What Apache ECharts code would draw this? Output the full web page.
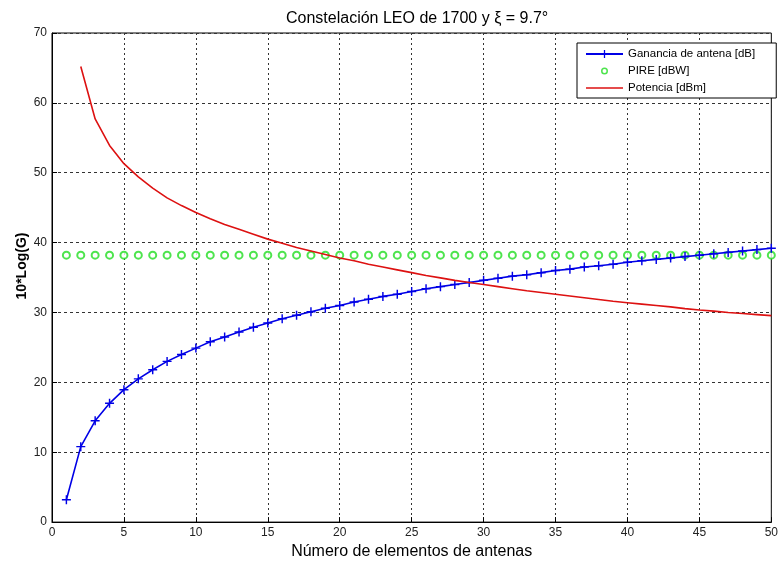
<!DOCTYPE html>
<html>
<head>
<meta charset="utf-8">
<script src="https://cdn.jsdelivr.net/npm/echarts@6/dist/echarts.min.js"></script>
<style>html,body{margin:0;padding:0;background:#fff;overflow:hidden;}#c{width:781px;height:565px;}</style>
</head>
<body>
<div id="c"></div>
<script>
var elementos = [1,2,3,4,5,6,7,8,9,10,11,12,13,14,15,16,17,18,19,20,21,22,23,24,25,26,27,28,29,30,31,32,33,34,35,36,37,38,39,40,41,42,43,44,45,46,47,48,49,50];
var ganancia = [3.2,10.8,14.5,17.0,18.95,20.5,21.8,23.0,24.0,24.9,25.8,26.5,27.2,27.9,28.5,29.1,29.6,30.1,30.6,31.0,31.5,31.9,32.3,32.6,33.0,33.4,33.7,34.0,34.3,34.6,34.9,35.2,35.4,35.7,36.0,36.2,36.5,36.7,36.9,37.2,37.4,37.6,37.8,38.0,38.2,38.4,38.6,38.8,39.0,39.2];
var pire = [38.2,38.2,38.2,38.2,38.2,38.2,38.2,38.2,38.2,38.2,38.2,38.2,38.2,38.2,38.2,38.2,38.2,38.2,38.2,38.2,38.2,38.2,38.2,38.2,38.2,38.2,38.2,38.2,38.2,38.2,38.2,38.2,38.2,38.2,38.2,38.2,38.2,38.2,38.2,38.2,38.2,38.2,38.2,38.2,38.2,38.2,38.2,38.2,38.2,38.2];
// Potencia starts at 2 elements
var potencia = [null,65.2,57.7,53.9,51.3,49.4,47.8,46.4,45.3,44.3,43.4,42.6,41.9,41.2,40.5,39.9,39.3,38.8,38.3,37.8,37.4,36.9,36.5,36.1,35.7,35.3,34.95,34.6,34.3,34.0,33.7,33.4,33.1,32.85,32.6,32.35,32.1,31.85,31.6,31.4,31.2,31.0,30.8,30.55,30.35,30.2,30.0,29.85,29.7,29.55];
var xTicks = [0,5,10,15,20,25,30,35,40,45,50];
var yTicks = [0,10,20,30,40,50,60,70];

function pairs(xs, ys){ var out=[]; for (var i=0;i<xs.length;i++){ if (ys[i]!==null) out.push([xs[i], ys[i]]); } return out; }

var font = 'Liberation Sans, Arial, sans-serif';
var chart = echarts.init(document.getElementById('c'), null, {renderer:'canvas', width: 781, height: 565});
var plus = 'path://M4.2,0 H5.8 V4.2 H10 V5.8 H5.8 V10 H4.2 V5.8 H0 V4.2 H4.2 Z';
var ring = 'path://M0,0 h0.02 v0.02 h-0.02 Z M13.98,13.98 h0.02 v0.02 h-0.02 Z M2.1,7 A4.9,4.9 0 1,0 11.9,7 A4.9,4.9 0 1,0 2.1,7 Z M4.2,7 A2.8,2.8 0 1,1 9.8,7 A2.8,2.8 0 1,1 4.2,7 Z';
var blue = '#0000e6', green = '#22dd22', red = '#dd1111';
chart.setOption({
  backgroundColor: '#ffffff',
  animation: false,
  title: {
    text: 'Constelación LEO de 1700 y ξ = 9.7°',
    left: 281, top: 6,
    textStyle: {fontFamily: font, fontSize: 16, fontWeight: 'normal', color: '#000'}
  },
  graphic: [{
    type: 'text', x: 22, y: 266, rotation: Math.PI/2,
    style: {text: '10*Log(G)', fontFamily: font, fontSize: 14, fontWeight: 'bold', fill: '#000', align: 'center', verticalAlign: 'middle'}
  }],
  legend: {
    orient: 'vertical',
    left: 577, top: 43,
    padding: [5, 21, 4, 8],
    itemGap: 5,
    itemWidth: 37, itemHeight: 10,
    backgroundColor: '#fff',
    borderColor: '#000', borderWidth: 1,
    textStyle: {fontFamily: font, fontSize: 11.5, color: '#000'},
    data: [
      {name: 'Ganancia de antena [dB]'},
      {name: 'PIRE [dBW]', icon: ring, itemStyle: {color: green, borderWidth: 0}},
      {name: 'Potencia [dBm]', icon: 'path://M0,0 H37 V1.6 H0 Z'}
    ]
  },
  grid: {left: 52, right: 3, top: 33, bottom: 37, show: true, borderColor: '#000', borderWidth: 1},
  xAxis: {
    type: 'value', min: xTicks[0], max: xTicks[xTicks.length-1], interval: 5,
    name: 'Número de elementos de antenas', nameLocation: 'middle', nameGap: 16,
    nameTextStyle: {fontFamily: font, fontSize: 16, color: '#000'},
    axisLine: {show: true, lineStyle: {color: '#000', width: 1}},
    axisTick: {show: true, inside: true, length: 5, lineStyle: {color: '#000'}},
    axisLabel: {fontFamily: font, fontSize: 12, color: '#222', margin: 5},
    splitLine: {show: true, lineStyle: {color: '#333', type: [2,3], width: 1}}
  },
  yAxis: {
    type: 'value', min: yTicks[0], max: yTicks[yTicks.length-1], interval: 10,
    axisLine: {show: true, lineStyle: {color: '#000', width: 1}},
    axisTick: {show: true, inside: true, length: 5, lineStyle: {color: '#000'}},
    axisLabel: {fontFamily: font, fontSize: 12, color: '#222', margin: 5},
    splitLine: {show: true, lineStyle: {color: '#333', type: [3,3], width: 1}}
  },
  series: [
    {
      name: 'Ganancia de antena [dB]', type: 'line',
      data: pairs(elementos, ganancia),
      symbol: plus, symbolSize: 9, showSymbol: true,
      lineStyle: {color: blue, width: 1.6},
      itemStyle: {color: blue},
      z: 3
    },
    {
      name: 'PIRE [dBW]', type: 'scatter',
      data: pairs(elementos, pire),
      symbol: 'emptyCircle', symbolSize: 7,
      itemStyle: {color: green, borderColor: green, borderWidth: 2},
      z: 2
    },
    {
      name: 'Potencia [dBm]', type: 'line',
      data: pairs(elementos, potencia),
      symbol: 'none', showSymbol: false,
      lineStyle: {color: red, width: 1.6},
      itemStyle: {color: red},
      z: 4
    }
  ]
});
</script>
</body>
</html>
